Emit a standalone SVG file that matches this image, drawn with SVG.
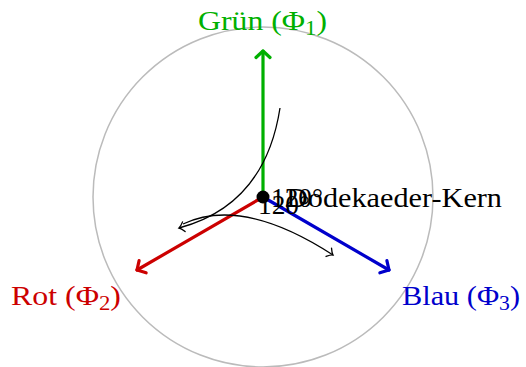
<svg xmlns="http://www.w3.org/2000/svg" width="526" height="367" viewBox="0 0 526 367">
<style>
text{font-family:"Liberation Serif","DejaVu Serif",serif;font-size:28px}
.ax{fill:none;stroke-width:3.2;stroke-linecap:round}
.bend{fill:none;stroke:#000;stroke-width:1.3}
</style>
<defs>
<marker id="mg" markerUnits="userSpaceOnUse" markerWidth="20" markerHeight="20" refX="0" refY="0" viewBox="-12 -10 16 20" orient="auto" overflow="visible"><path d="M-6.5,-7 L0,0 L-6.5,7" fill="none" stroke="#00b000" stroke-width="3.2" stroke-linecap="round" stroke-linejoin="round"/></marker>
<marker id="mr" markerUnits="userSpaceOnUse" markerWidth="20" markerHeight="20" refX="0" refY="0" viewBox="-12 -10 16 20" orient="auto" overflow="visible"><path d="M-6.5,-7 L0,0 L-6.5,7" fill="none" stroke="#cc0000" stroke-width="3.2" stroke-linecap="round" stroke-linejoin="round"/></marker>
<marker id="mb" markerUnits="userSpaceOnUse" markerWidth="20" markerHeight="20" refX="0" refY="0" viewBox="-12 -10 16 20" orient="auto" overflow="visible"><path d="M-6.5,-7 L0,0 L-6.5,7" fill="none" stroke="#0000cc" stroke-width="3.2" stroke-linecap="round" stroke-linejoin="round"/></marker>
<marker id="mk" markerUnits="userSpaceOnUse" markerWidth="20" markerHeight="20" refX="0" refY="0" viewBox="-12 -10 16 20" orient="auto" overflow="visible"><path d="M-5,-5 Q-2,-1 0,0 Q-2,1 -5,5" fill="none" stroke="#000" stroke-width="1.3" stroke-linecap="round"/></marker>
</defs>
<g id="outline">
<circle cx="263" cy="197" r="170" fill="none" stroke="#bbbbbb" stroke-width="1.5"/>
</g>
<g id="connectors">
<line class="ax" x1="263" y1="197" x2="263" y2="51" stroke="#00b000" marker-end="url(#mg)"/>
<line class="ax" x1="263" y1="197" x2="137" y2="270" stroke="#cc0000" marker-end="url(#mr)"/>
<line class="ax" x1="263" y1="197" x2="389" y2="270" stroke="#0000cc" marker-end="url(#mb)"/>
<path class="bend" d="M280,108 Q265,205 179,228" marker-end="url(#mk)"/>
<path class="bend" d="M183,224 Q242,196 333,255" marker-end="url(#mk)"/>
</g>
<g id="core">
<circle cx="263" cy="197" r="6.5" fill="#000"/>
<text x="286" y="207" textLength="216" lengthAdjust="spacingAndGlyphs">Dodekaeder-Kern</text>
</g>
<g id="angle1"><text x="271" y="207" textLength="52" lengthAdjust="spacingAndGlyphs">120°</text></g>
<g id="angle2"><text x="258" y="214" textLength="52" lengthAdjust="spacingAndGlyphs">120°</text></g>
<g id="gruen"><text x="198" y="30" fill="#00b000" textLength="129" lengthAdjust="spacingAndGlyphs">Grün (Φ<tspan font-size="20" dy="5">1</tspan><tspan dy="-5">)</tspan></text></g>
<g id="rot"><text x="11" y="305" fill="#cc0000" textLength="110" lengthAdjust="spacingAndGlyphs">Rot (Φ<tspan font-size="20" dy="5">2</tspan><tspan dy="-5">)</tspan></text></g>
<g id="blau"><text x="402" y="305" fill="#0000cc" textLength="118" lengthAdjust="spacingAndGlyphs">Blau (Φ<tspan font-size="20" dy="5">3</tspan><tspan dy="-5">)</tspan></text></g>
</svg>
